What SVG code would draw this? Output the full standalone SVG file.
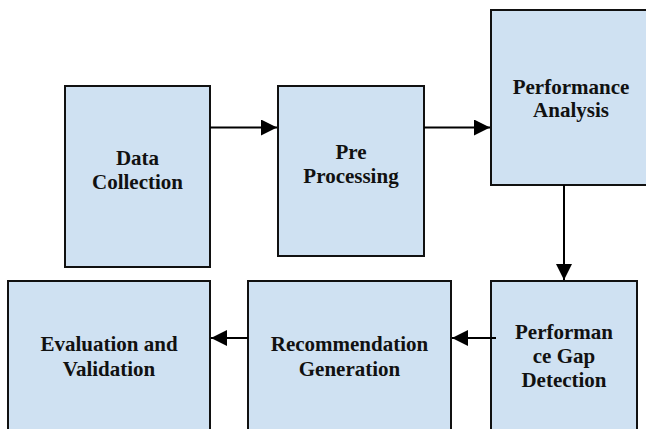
<svg xmlns="http://www.w3.org/2000/svg" width="646" height="429" viewBox="0 0 646 429">
  <defs>
    <marker id="head" viewBox="0 0 16 16" refX="16" refY="8" markerWidth="16" markerHeight="16" markerUnits="userSpaceOnUse" orient="auto">
      <path d="M0,0 L16,8 L0,16 Z" fill="#000"/>
    </marker>
  </defs>
  <style>
    .box { fill: #cfe1f2; stroke: #111; stroke-width: 2; }
    .lbl { font-family: "Liberation Serif", "Times New Roman", serif; font-weight: bold; font-size: 21px; fill: #111; text-anchor: middle; }
    .wire { stroke: #000; stroke-width: 2; fill: none; marker-end: url(#head); }
  </style>
  <rect width="646" height="429" fill="#fff"/>

  <g id="data-collection">
    <rect class="box" x="65" y="86" width="145" height="181"/>
    <text class="lbl" x="137.5" y="165">Data</text>
    <text class="lbl" x="137.5" y="189">Collection</text>
  </g>

  <g id="pre-processing">
    <rect class="box" x="278" y="86" width="146" height="170"/>
    <text class="lbl" x="351" y="159">Pre</text>
    <text class="lbl" x="351" y="183">Processing</text>
  </g>

  <g id="performance-analysis">
    <rect class="box" x="491" y="10" width="160" height="175"/>
    <text class="lbl" x="571" y="94">Performance</text>
    <text class="lbl" x="571" y="117">Analysis</text>
  </g>

  <g id="gap-detection">
    <rect class="box" x="491" y="281" width="146" height="160"/>
    <text class="lbl" x="564" y="339">Performan</text>
    <text class="lbl" x="564" y="363">ce Gap</text>
    <text class="lbl" x="564" y="387">Detection</text>
  </g>

  <g id="recommendation">
    <rect class="box" x="248" y="281" width="203" height="160"/>
    <text class="lbl" x="349.5" y="351">Recommendation</text>
    <text class="lbl" x="349.5" y="376">Generation</text>
  </g>

  <g id="evaluation">
    <rect class="box" x="8" y="281" width="202" height="160"/>
    <text class="lbl" x="109" y="351">Evaluation and</text>
    <text class="lbl" x="109" y="376">Validation</text>
  </g>

  <g id="connectors">
    <line class="wire" x1="210" y1="127.5" x2="277" y2="127.5"/>
    <line class="wire" x1="424" y1="127.5" x2="490" y2="127.5"/>
    <line class="wire" x1="564" y1="185" x2="564" y2="280"/>
    <line class="wire" x1="496" y1="338" x2="452" y2="338"/>
    <line class="wire" x1="248" y1="338" x2="211" y2="338"/>
  </g>
</svg>
